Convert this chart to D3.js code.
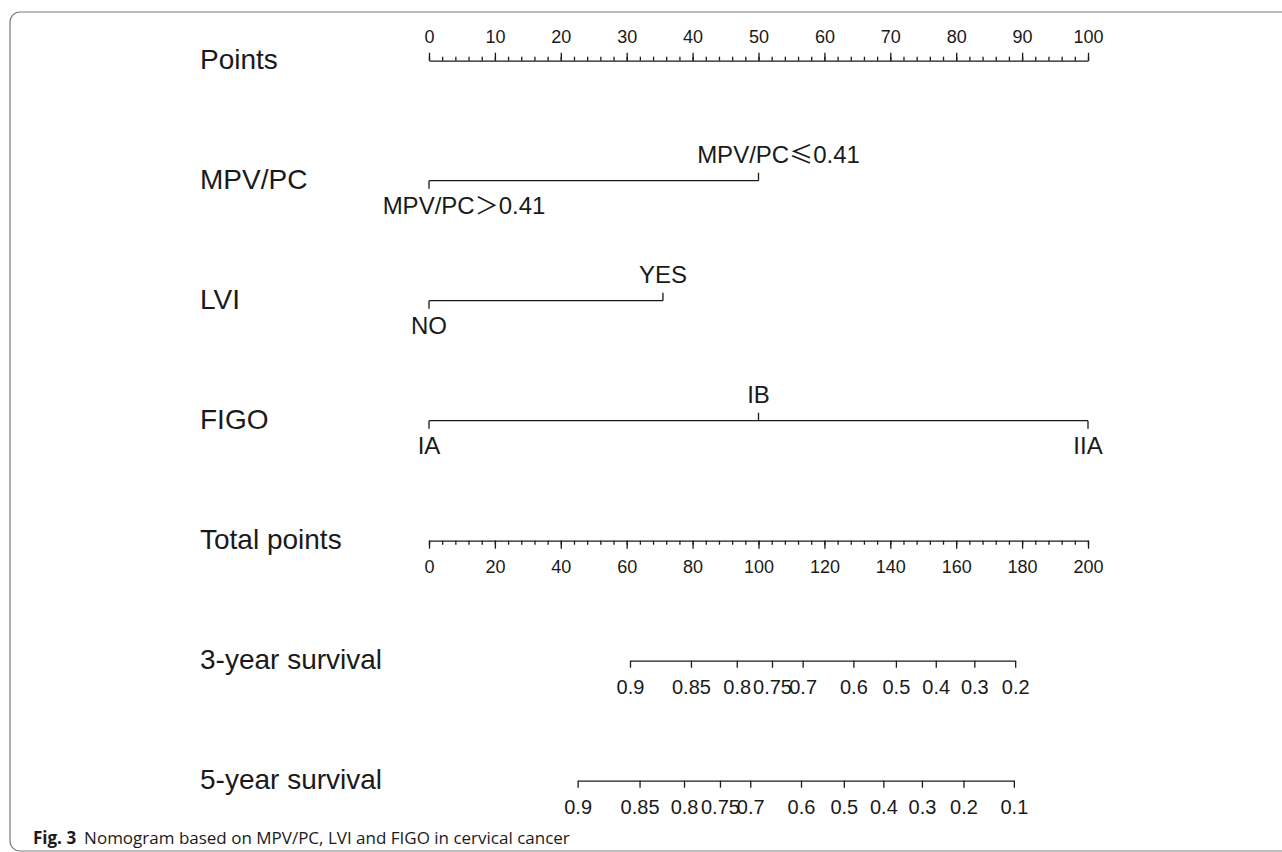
<!DOCTYPE html>
<html>
<head>
<meta charset="utf-8">
<script src="https://cdn.jsdelivr.net/npm/d3@7"></script>
<style>
  body { margin: 0; background: #fff; }
  svg { display: block; }
</style>
</head>
<body>
<svg id="chart" width="1282" height="852"></svg>
<script>
// row titles, top to bottom
const rowNames = ["Points", "MPV/PC", "LVI", "FIGO", "Total points", "3-year survival", "5-year survival"];

// points scale (0-100)
const pointsTicks = [0, 10, 20, 30, 40, 50, 60, 70, 80, 90, 100];

// predictors: level labels and the points each one gets
const mpvLabels = ["MPV/PC＞0.41", "MPV/PC≤0.41"];
const mpvPoints = [0, 50];
const lviLabels = ["NO", "YES"];
const lviPoints = [0, 35.5];
const figoLabels = ["IA", "IB", "IIA"];
const figoPoints = [0, 50, 100];

// total points scale (0-200)
const totalTicks = [0, 20, 40, 60, 80, 100, 120, 140, 160, 180, 200];

// survival probabilities and the total points where they fall
const surv3Labels = ["0.9", "0.85", "0.8", "0.75", "0.7", "0.6", "0.5", "0.4", "0.3", "0.2"];
const surv3Total = [61.0, 79.5, 93.4, 104.1, 113.4, 128.8, 141.7, 153.8, 165.5, 177.9];
const surv5Labels = ["0.9", "0.85", "0.8", "0.75", "0.7", "0.6", "0.5", "0.4", "0.3", "0.2", "0.1"];
const surv5Total = [45.1, 63.9, 77.4, 88.3, 97.5, 112.9, 125.9, 137.9, 149.6, 162.2, 177.5];

const width = 1282, height = 852;
const ink = "#1a1a1a";
const sans = "'Liberation Sans', Arial, Helvetica, sans-serif";
const narrow = "'Liberation Sans Narrow', 'Arial Narrow', 'Liberation Sans', sans-serif";

const svg = d3.select("#chart");
svg.append("rect").attr("width", width).attr("height", height).attr("fill", "#fff");

// figure frame (rounded, runs off the right edge)
svg.append("rect")
    .attr("x", 10).attr("y", 12)
    .attr("width", 1300).attr("height", 839)
    .attr("rx", 10)
    .attr("fill", "none")
    .attr("stroke", "#7a7a7a")
    .attr("stroke-width", 1.2);

const y = d3.scalePoint().domain(rowNames).range([60.7, 780.7]);
const xPts = d3.scaleLinear().domain([0, 100]).range([429, 1088]);
const xTot = d3.scaleLinear().domain([0, 200]).range([429, 1088]);

svg.selectAll("text.row")
    .data(rowNames)
    .join("text")
    .attr("class", "row")
    .attr("x", 200)
    .attr("y", d => y(d) + 8.6)
    .attr("font-family", sans)
    .attr("font-size", 28)
    .attr("fill", ink)
    .text(d => d);

const styleAxis = (g, font, size) => {
    g.attr("font-family", font).attr("font-size", size).attr("color", ink);
    g.selectAll("path, line").attr("stroke-width", 1.3);
};

// Points axis, ticks up
const gPminor = svg.append("g").attr("transform", `translate(0,${y("Points")})`);
gPminor.call(d3.axisTop(xPts).tickValues(d3.range(0, 101, 2)).tickSize(4).tickSizeOuter(0).tickFormat(""));
gPminor.select(".domain").remove();
styleAxis(gPminor, narrow, 18);
const gP = svg.append("g").attr("transform", `translate(0,${y("Points")})`);
gP.call(d3.axisTop(xPts).tickValues(pointsTicks).tickSize(8).tickSizeOuter(0).tickPadding(10));
styleAxis(gP, narrow, 18);

// predictor rows: labels alternate below / above the line
const labelShift = { "MPV/PC＞0.41": 35, "MPV/PC≤0.41": 20 };
function drawFactor(row, labels, pts) {
    const g = svg.append("g").attr("transform", `translate(0,${y(row)})`);
    g.append("path")
        .attr("d", `M${xPts(d3.min(pts))},0H${xPts(d3.max(pts))}`)
        .attr("stroke", ink).attr("stroke-width", 1.3).attr("fill", "none");
    g.selectAll("line")
        .data(pts)
        .join("line")
        .attr("x1", d => xPts(d)).attr("x2", d => xPts(d))
        .attr("y1", 0).attr("y2", (d, i) => i % 2 ? -8 : 8)
        .attr("stroke", ink).attr("stroke-width", 1.3);
    g.selectAll("text")
        .data(labels)
        .join("text")
        .attr("x", (d, i) => xPts(pts[i]) + (labelShift[d] || 0))
        .attr("y", (d, i) => i % 2 ? -18 : 33)
        .attr("text-anchor", "middle")
        .attr("font-family", sans)
        .attr("font-size", 24)
        .attr("fill", ink)
        .each(function(d) {
            const t = d3.select(this);
            const m = d.match(/^(.*?)([≤＞])(.*)$/);
            if (m) {
                t.append("tspan").text(m[1]);
                t.append("tspan").attr("font-family", "'Noto Sans CJK SC', sans-serif").text(m[2]);
                t.append("tspan").text(m[3]);
            } else {
                t.text(d);
            }
        });
}
drawFactor("MPV/PC", mpvLabels, mpvPoints);
drawFactor("LVI", lviLabels, lviPoints);
drawFactor("FIGO", figoLabels, figoPoints);

// Total points axis, ticks down
const gTminor = svg.append("g").attr("transform", `translate(0,${y("Total points")})`);
gTminor.call(d3.axisBottom(xTot).tickValues(d3.range(0, 201, 4)).tickSize(4).tickSizeOuter(0).tickFormat(""));
gTminor.select(".domain").remove();
styleAxis(gTminor, narrow, 18);
const gT = svg.append("g").attr("transform", `translate(0,${y("Total points")})`);
gT.call(d3.axisBottom(xTot).tickValues(totalTicks).tickSize(8).tickSizeOuter(0).tickPadding(11.6));
styleAxis(gT, narrow, 18);

// survival axes, placed on the total points scale
function drawSurv(row, labels, tot) {
    const ends = [tot[0], tot[tot.length - 1]];
    const s = d3.scaleLinear().domain(ends).range(ends.map(xTot));
    const g = svg.append("g").attr("transform", `translate(0,${y(row)})`);
    g.call(d3.axisBottom(s).tickValues(tot).tickSize(7).tickSizeOuter(0).tickPadding(11.8)
        .tickFormat((d, i) => labels[i]));
    styleAxis(g, sans, 20);
}
drawSurv("3-year survival", surv3Labels, surv3Total);
drawSurv("5-year survival", surv5Labels, surv5Total);

// caption
const cap = svg.append("text")
    .attr("x", 33).attr("y", 844)
    .attr("font-family", "'Open Sans', 'Noto Sans', sans-serif")
    .attr("font-size", 17)
    .attr("fill", ink);
cap.append("tspan").attr("font-weight", "bold").text("Fig. 3");
cap.append("tspan").attr("dx", 8).text("Nomogram based on MPV/PC, LVI and FIGO in cervical cancer");
</script>
</body>
</html>
